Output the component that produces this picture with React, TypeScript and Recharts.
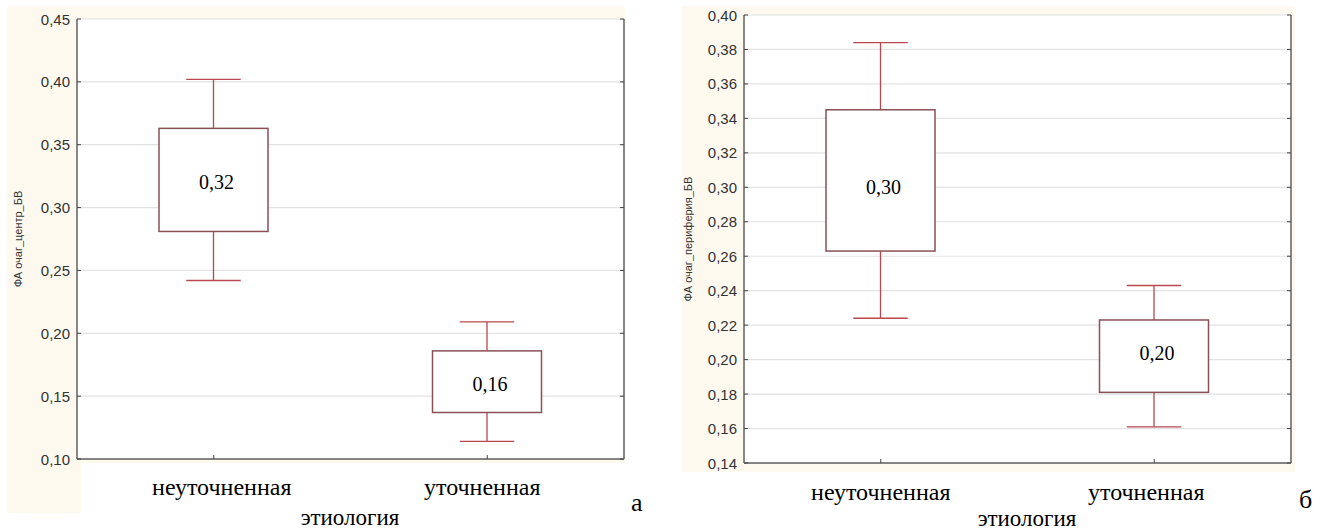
import React from 'react';
import { ComposedChart, Bar, XAxis, YAxis, CartesianGrid, Label } from 'recharts';

// ---- data ----
const categories = ['неуточненная', 'уточненная'];

const centerMin = [0.242, 0.114];
const centerQ1 = [0.281, 0.137];
const centerQ3 = [0.363, 0.186];
const centerMax = [0.402, 0.209];
const centerMean = [0.32, 0.16];
const centerTicks = [0.1, 0.15, 0.2, 0.25, 0.3, 0.35, 0.4, 0.45];

const periphMin = [0.224, 0.161];
const periphQ1 = [0.263, 0.181];
const periphQ3 = [0.345, 0.223];
const periphMax = [0.384, 0.243];
const periphMean = [0.3, 0.204];
const periphTicks = [0.14, 0.16, 0.18, 0.2, 0.22, 0.24, 0.26, 0.28, 0.3, 0.32, 0.34, 0.36, 0.38, 0.4];

const centerTitle = 'ФА очаг_центр_БВ';
const periphTitle = 'ФА очаг_периферия_БВ';
const xTitle = 'этиология';

// ---- styles ----
const CREAM = '#fdf9ef';
const AXIS = '#606060';
const GRID = '#e2e2e2';
const BOX = '#8a5056';
const WHISKER = '#b8474f';
const SANS = '"Liberation Sans", Arial, sans-serif';
const SERIF = '"Liberation Serif", "Times New Roman", serif';

const fmt = (v: number) => v.toFixed(2).replace('.', ',');

const buildRows = (mins: number[], q1s: number[], q3s: number[], maxs: number[], means: number[]) =>
  categories.map((c, i) => ({ category: c, min: mins[i], q1: q1s[i], q3: q3s[i], max: maxs[i], mean: means[i] }));

const centerRows = buildRows(centerMin, centerQ1, centerQ3, centerMax, centerMean);
const periphRows = buildRows(periphMin, periphQ1, periphQ3, periphMax, periphMean);

const BoxShape = (props: any) => {
  const { x, y, width, height, payload } = props;
  const top = Math.min(y, y + height);
  const bottom = Math.max(y, y + height);
  const span = payload.max - payload.min;
  const toPix = (v: number) => top + ((payload.max - v) / span) * (bottom - top);
  const cx = x + width / 2;
  const cap = width / 4;
  return (
    <g>
      <line x1={cx} x2={cx} y1={toPix(payload.max)} y2={toPix(payload.min)} stroke={WHISKER} strokeWidth={1.3} />
      <line x1={cx - cap} x2={cx + cap} y1={toPix(payload.max)} y2={toPix(payload.max)} stroke={WHISKER} strokeWidth={1.3} />
      <line x1={cx - cap} x2={cx + cap} y1={toPix(payload.min)} y2={toPix(payload.min)} stroke={WHISKER} strokeWidth={1.3} />
      <rect
        x={x}
        y={toPix(payload.q3)}
        width={width}
        height={toPix(payload.q1) - toPix(payload.q3)}
        fill="#ffffff"
        stroke={BOX}
        strokeWidth={1.5}
      />
      <text
        x={cx + 3}
        y={toPix(payload.mean)}
        textAnchor="middle"
        dominantBaseline="central"
        fontFamily={SERIF}
        fontSize={20}
        fill="#000"
      >
        {fmt(payload.mean)}
      </text>
    </g>
  );
};

const LeftTick = (props: any) => {
  const { x, y, payload } = props;
  const ax = x + 7;
  return (
    <g>
      <text x={x} y={y} textAnchor="end" dominantBaseline="central" fontFamily={SANS} fontSize={15} fill="#333">
        {fmt(payload.value)}
      </text>
      <line x1={ax} x2={ax + 4} y1={y} y2={y} stroke="#444" strokeWidth={1} />
    </g>
  );
};

const RightTick = (props: any) => {
  const { x, y } = props;
  return <line x1={x - 4} x2={x} y1={y} y2={y} stroke="#444" strokeWidth={1} />;
};

const makeBottomTick = (dy: number, shifts: number[]) => (props: any) => {
  const { x, y, payload, index } = props;
  const sx = shifts[index] || 0;
  return (
    <g>
      <line x1={x} x2={x} y1={y - 4} y2={y} stroke="#444" strokeWidth={1} />
      <text x={x + sx} y={y + dy} textAnchor="middle" fontFamily={SERIF} fontSize={24} fill="#000">
        {payload.value}
      </text>
    </g>
  );
};

type PanelProps = {
  rows: any[];
  ticks: number[];
  title: string;
  width: number;
  top: number;
  yAxisWidth: number;
  rightMargin: number;
  xAxisHeight: number;
  titleX: number;
  catDy: number;
  catShifts: number[];
  xTitleX: number;
  xTitleDy: number;
};

const Panel = ({ rows, ticks, title, width, top, yAxisWidth, rightMargin, xAxisHeight, titleX, catDy, catShifts, xTitleX, xTitleDy }: PanelProps) => {
  const domain: [number, number] = [ticks[0], ticks[ticks.length - 1]];
  return (
    <ComposedChart
      width={width}
      height={532}
      data={rows}
      margin={{ top, right: rightMargin, bottom: 0, left: 0 }}
      barCategoryGap={0}
    >
      <CartesianGrid vertical={false} stroke={GRID} strokeWidth={1.2} fill="#ffffff" />
      <XAxis
        dataKey="category"
        xAxisId={0}
        height={xAxisHeight}
        axisLine={{ stroke: AXIS, strokeWidth: 1.5 }}
        tickLine={false}
        tickSize={0}
        tickMargin={0}
        interval={0}
        tick={makeBottomTick(catDy, catShifts)}
      >
        <Label
          content={(p: any) => {
            const vb = p.viewBox || { x: 0, y: 0, height: 0 };
            return (
              <text x={xTitleX} y={vb.y + xTitleDy} textAnchor="middle" fontFamily={SERIF} fontSize={23} fill="#000">
                {xTitle}
              </text>
            );
          }}
        />
      </XAxis>
      <XAxis
        dataKey="category"
        xAxisId="top"
        orientation="top"
        height={0}
        tick={false}
        tickLine={false}
        axisLine={{ stroke: AXIS, strokeWidth: 1.5 }}
      />
      <YAxis
        yAxisId={0}
        type="number"
        domain={domain}
        ticks={ticks}
        allowDataOverflow
        width={yAxisWidth}
        axisLine={{ stroke: AXIS, strokeWidth: 1.5 }}
        tickLine={false}
        tickSize={0}
        tickMargin={7}
        interval={0}
        tick={LeftTick}
      >
        <Label
          content={(p: any) => {
            const vb = p.viewBox || { x: 0, y: 0, height: 0 };
            const cy = vb.y + vb.height / 2;
            return (
              <text
                x={vb.x + titleX}
                y={cy}
                transform={`rotate(-90 ${vb.x + titleX} ${cy})`}
                textAnchor="middle"
                dominantBaseline="central"
                fontFamily={SANS}
                fontSize={11}
                fill="#333"
              >
                {title}
              </text>
            );
          }}
        />
      </YAxis>
      <YAxis
        yAxisId="r"
        orientation="right"
        type="number"
        domain={domain}
        ticks={ticks}
        allowDataOverflow
        width={1}
        axisLine={{ stroke: AXIS, strokeWidth: 1.5 }}
        tickLine={false}
        tickSize={0}
        tickMargin={0}
        interval={0}
        tick={RightTick}
      />
      <Bar
        dataKey={(d: any) => [d.min, d.max]}
        xAxisId={0}
        yAxisId={0}
        barSize={109}
        shape={BoxShape}
        isAnimationActive={false}
      />
    </ComposedChart>
  );
};

export default function App() {
  return (
    <div style={{ position: 'absolute', left: 0, top: 0, width: 1326, height: 532, background: '#fff', overflow: 'hidden' }}>
      <div style={{ position: 'absolute', left: 7, top: 6, width: 618, height: 457, background: CREAM }} />
      <div style={{ position: 'absolute', left: 7, top: 463, width: 74, height: 50, background: CREAM }} />
      <div style={{ position: 'absolute', left: 682, top: 6, width: 613, height: 466, background: CREAM }} />

      <div style={{ position: 'absolute', left: 0, top: 0 }}>
        <Panel
          rows={centerRows}
          ticks={centerTicks}
          title={centerTitle}
          width={640}
          top={19}
          yAxisWidth={77}
          rightMargin={15}
          xAxisHeight={73}
          titleX={18}
          catDy={36}
          catShifts={[8, -5]}
          xTitleX={350}
          xTitleDy={66}
        />
      </div>
      <div style={{ position: 'absolute', left: 660, top: 0 }}>
        <Panel
          rows={periphRows}
          ticks={periphTicks}
          title={periphTitle}
          width={650}
          top={15}
          yAxisWidth={84}
          rightMargin={18}
          xAxisHeight={69}
          titleX={28}
          catDy={37}
          catShifts={[0, -8]}
          xTitleX={367}
          xTitleDy={63}
        />
      </div>

      <div style={{ position: 'absolute', left: 631, top: 488, fontFamily: SERIF, fontSize: 26, lineHeight: '30px', color: '#000' }}>а</div>
      <div style={{ position: 'absolute', left: 1299, top: 485, fontFamily: SERIF, fontSize: 26, lineHeight: '30px', color: '#000' }}>б</div>
    </div>
  );
}
